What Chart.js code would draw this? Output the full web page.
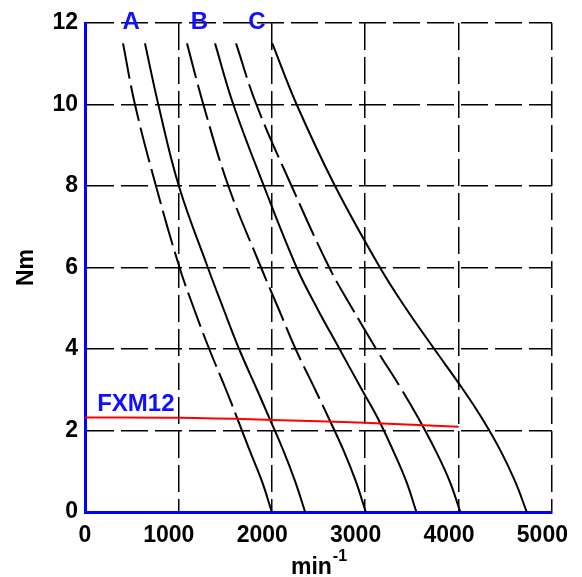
<!DOCTYPE html>
<html>
<head>
<meta charset="utf-8">
<script src="https://cdn.jsdelivr.net/npm/chart.js@4.4.1/dist/chart.umd.min.js"></script>
<style>
  html, body { margin: 0; padding: 0; background: #fff; }
  #wrap { width: 582px; height: 577px; }
</style>
</head>
<body>
<div id="wrap"><canvas id="fxm_chart" width="582" height="577"></canvas></div>
<script>
// torque levels (Nm) at which each curve's speed was read
const torqueSteps = [11.5, 10, 8, 6, 5, 4, 3, 2.3, 1.5, 0.75, 0];

// speed (min-1) of each curve at those torque levels
const speedA1 = [407, 535, 760, 1012, 1165, 1330, 1510, 1630, 1765, 1895, 2000];
const speedA2 = [642, 785, 1005, 1315, 1480, 1650, 1842, 1975, 2125, 2250, 2357];
const speedB1 = [1092, 1267, 1535, 1885, 2070, 2255, 2465, 2610, 2770, 2900, 3006];
const speedB2 = [1392, 1588, 1915, 2266, 2485, 2725, 2965, 3135, 3300, 3440, 3548];
const speedC1 = [1617, 1835, 2212, 2615, 2860, 3118, 3392, 3570, 3755, 3905, 4018];
const speedC2 = [2005, 2266, 2677, 3158, 3435, 3740, 4050, 4250, 4450, 4605, 4730];

// FXM12 line
const fxmSpeed = [0, 1000, 2000, 3000, 4000];
const fxmTorque = [2.32, 2.31, 2.26, 2.19, 2.09];

const xTicks = [0, 1000, 2000, 3000, 4000, 5000];
const yTicks = [0, 2, 4, 6, 8, 10, 12];

const curveNames = ['A', 'B', 'C'];
const curveNameSpeed = [495, 1225, 1840];

const toPoints = (xs, ys) => xs.map((x, i) => ({ x: x, y: ys[i] }));

const DASH_ABOVE = 2.3;
const curve = (speeds, dashed) => ({
  data: toPoints(speeds, torqueSteps),
  borderColor: '#000',
  borderWidth: 2,
  pointRadius: 0,
  tension: 0.4,
  segment: {
    borderDash: (ctx) => (dashed && ctx.p1.parsed.y >= DASH_ABOVE - 0.001 ? [36, 7] : []),
  },
});

const FONT = 'Arial, "Liberation Sans", sans-serif';
const bold = (size) => ({ family: FONT, size: size, weight: 'bold' });

const textPlugin = {
  id: 'chartText',
  afterDraw(chart) {
    const { ctx, scales, chartArea } = chart;
    const xs = scales.x;
    const ys = scales.y;
    ctx.save();
    ctx.fillStyle = '#1010ff';
    ctx.font = 'bold 24px ' + FONT;
    ctx.textAlign = 'center';
    ctx.textBaseline = 'middle';
    curveNames.forEach((name, i) => {
      ctx.fillText(name, xs.getPixelForValue(curveNameSpeed[i]), ys.getPixelForValue(12) - 1);
    });
    ctx.textAlign = 'left';
    ctx.fillText('FXM12', xs.getPixelForValue(130), ys.getPixelForValue(2.63));

    // axis titles
    ctx.fillStyle = '#000';
    ctx.font = 'bold 23px ' + FONT;
    ctx.save();
    ctx.translate(27, (chartArea.top + chartArea.bottom) / 2);
    ctx.rotate(-Math.PI / 2);
    ctx.textAlign = 'center';
    ctx.fillText('Nm', 0, 0);
    ctx.restore();

    const main = 'min';
    const sup = '-1';
    ctx.textBaseline = 'alphabetic';
    const w1 = ctx.measureText(main).width;
    ctx.font = 'bold 16px ' + FONT;
    const w2 = ctx.measureText(sup).width;
    const startX = (chartArea.left + chartArea.right) / 2 - (w1 + w2) / 2;
    ctx.font = 'bold 23px ' + FONT;
    ctx.textAlign = 'left';
    ctx.fillText(main, startX, 574);
    ctx.font = 'bold 16px ' + FONT;
    ctx.fillText(sup, startX + w1 + 1, 561);
    ctx.restore();
  },
};

const gridStyle = { color: '#000', lineWidth: 1.5, drawTicks: false };
const axisBorder = { color: '#0000ff', width: 3, dash: [27, 7] };

new Chart(document.getElementById('fxm_chart').getContext('2d'), {
  type: 'line',
  data: {
    datasets: [
      {
        data: toPoints(fxmSpeed, fxmTorque),
        borderColor: '#ff0000',
        borderWidth: 2,
        pointRadius: 0,
        tension: 0.4,
      },
      curve(speedA1, true),
      curve(speedA2, false),
      curve(speedB1, true),
      curve(speedB2, false),
      curve(speedC1, true),
      curve(speedC2, false),
    ],
  },
  options: {
    responsive: false,
    animation: false,
    layout: { padding: { left: 0, top: 23, right: 30, bottom: 0 } },
    plugins: { legend: { display: false }, tooltip: { enabled: false } },
    scales: {
      x: {
        type: 'linear',
        min: 0,
        max: 5000,
        afterBuildTicks: (scale) => { scale.ticks = xTicks.map((v) => ({ value: v })); },
        afterFit: (scale) => {
          scale.height = 65;
          scale.paddingLeft = 0;
          scale.paddingRight = 0;
        },
        ticks: {
          font: bold(23), color: '#000', padding: 10, maxRotation: 0, autoSkip: false,
          // the thousands sit a little left of their grid line in the original
          callback: (v) => (v === 0 ? '0' : v + '   '),
        },
        grid: gridStyle,
        border: axisBorder,
      },
      y: {
        type: 'linear',
        min: 0,
        max: 12,
        afterBuildTicks: (scale) => { scale.ticks = yTicks.map((v) => ({ value: v })); },
        afterFit: (scale) => {
          scale.width = 85;
          scale.paddingTop = 0;
          scale.paddingBottom = 0;
        },
        ticks: { font: bold(23), color: '#000', padding: 7, autoSkip: false, callback: (v) => String(v) },
        grid: gridStyle,
        border: axisBorder,
      },
    },
  },
  plugins: [textPlugin],
});
</script>
</body>
</html>
